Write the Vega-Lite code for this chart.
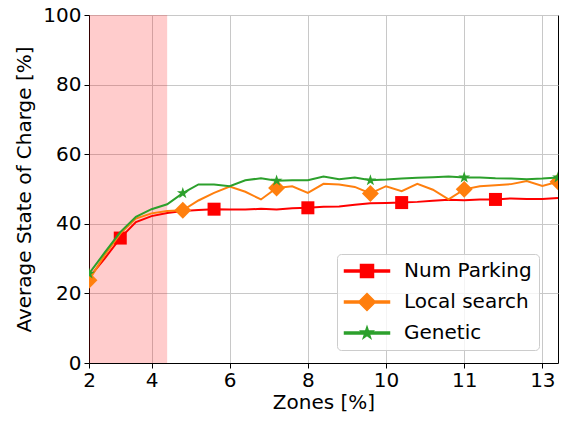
{
  "$schema": "https://vega.github.io/schema/vega-lite/v6.json",
  "width": 469,
  "height": 348,
  "autosize": {"type": "none"},
  "padding": {"left": 89, "top": 15, "right": 7, "bottom": 58},
  "config": {
    "font": "DejaVu Sans",
    "view": {"stroke": "black", "strokeWidth": 1},
    "axis": {
      "labelFont": "DejaVu Sans", "labelFontSize": 20, "labelColor": "black",
      "titleFont": "DejaVu Sans", "titleFontSize": 20, "titleFontWeight": "normal", "titleColor": "black",
      "tickColor": "black", "tickSize": 5, "tickWidth": 1,
      "domainColor": "black", "domainWidth": 1,
      "gridColor": "#c8c8c8", "gridWidth": 1, "gridOpacity": 1
    },
    "legend": {
      "labelFont": "DejaVu Sans", "labelFontSize": 20, "labelColor": "black"
    }
  },
  "datasets": {
    "soc": [
      {"i":0,"s":"Num Parking","v":24.5},{"i":1,"s":"Num Parking","v":30.0},{"i":2,"s":"Num Parking","v":35.9},{"i":3,"s":"Num Parking","v":40.5},{"i":4,"s":"Num Parking","v":42.2},{"i":5,"s":"Num Parking","v":43.1},{"i":6,"s":"Num Parking","v":43.7},{"i":7,"s":"Num Parking","v":44.0},{"i":8,"s":"Num Parking","v":44.2},{"i":9,"s":"Num Parking","v":44.1},{"i":10,"s":"Num Parking","v":44.1},{"i":11,"s":"Num Parking","v":44.3},{"i":12,"s":"Num Parking","v":44.1},{"i":13,"s":"Num Parking","v":44.5},{"i":14,"s":"Num Parking","v":44.6},{"i":15,"s":"Num Parking","v":44.9},{"i":16,"s":"Num Parking","v":45.0},{"i":17,"s":"Num Parking","v":45.5},{"i":18,"s":"Num Parking","v":45.9},{"i":19,"s":"Num Parking","v":46.0},{"i":20,"s":"Num Parking","v":46.1},{"i":21,"s":"Num Parking","v":46.3},{"i":22,"s":"Num Parking","v":46.6},{"i":23,"s":"Num Parking","v":46.9},{"i":24,"s":"Num Parking","v":46.8},{"i":25,"s":"Num Parking","v":47.0},{"i":26,"s":"Num Parking","v":47.0},{"i":27,"s":"Num Parking","v":47.3},{"i":28,"s":"Num Parking","v":47.1},{"i":29,"s":"Num Parking","v":47.1},{"i":30,"s":"Num Parking","v":47.4},
      {"i":0,"s":"Local search","v":23.8},{"i":1,"s":"Local search","v":31.0},{"i":2,"s":"Local search","v":37.2},{"i":3,"s":"Local search","v":41.5},{"i":4,"s":"Local search","v":43.0},{"i":5,"s":"Local search","v":43.7},{"i":6,"s":"Local search","v":43.9},{"i":7,"s":"Local search","v":46.7},{"i":8,"s":"Local search","v":48.9},{"i":9,"s":"Local search","v":50.7},{"i":10,"s":"Local search","v":49.2},{"i":11,"s":"Local search","v":47.0},{"i":12,"s":"Local search","v":50.3},{"i":13,"s":"Local search","v":50.8},{"i":14,"s":"Local search","v":48.9},{"i":15,"s":"Local search","v":51.5},{"i":16,"s":"Local search","v":51.3},{"i":17,"s":"Local search","v":50.6},{"i":18,"s":"Local search","v":48.7},{"i":19,"s":"Local search","v":50.8},{"i":20,"s":"Local search","v":49.4},{"i":21,"s":"Local search","v":51.5},{"i":22,"s":"Local search","v":49.8},{"i":23,"s":"Local search","v":47.0},{"i":24,"s":"Local search","v":49.9},{"i":25,"s":"Local search","v":50.8},{"i":26,"s":"Local search","v":51.1},{"i":27,"s":"Local search","v":51.4},{"i":28,"s":"Local search","v":52.3},{"i":29,"s":"Local search","v":50.9},{"i":30,"s":"Local search","v":52.1},
      {"i":0,"s":"Genetic","v":25.7},{"i":1,"s":"Genetic","v":31.7},{"i":2,"s":"Genetic","v":37.6},{"i":3,"s":"Genetic","v":42.0},{"i":4,"s":"Genetic","v":44.2},{"i":5,"s":"Genetic","v":45.6},{"i":6,"s":"Genetic","v":48.8},{"i":7,"s":"Genetic","v":51.3},{"i":8,"s":"Genetic","v":51.3},{"i":9,"s":"Genetic","v":50.8},{"i":10,"s":"Genetic","v":52.5},{"i":11,"s":"Genetic","v":53.1},{"i":12,"s":"Genetic","v":52.4},{"i":13,"s":"Genetic","v":52.5},{"i":14,"s":"Genetic","v":52.5},{"i":15,"s":"Genetic","v":53.6},{"i":16,"s":"Genetic","v":52.8},{"i":17,"s":"Genetic","v":53.3},{"i":18,"s":"Genetic","v":52.5},{"i":19,"s":"Genetic","v":52.7},{"i":20,"s":"Genetic","v":53.0},{"i":21,"s":"Genetic","v":53.2},{"i":22,"s":"Genetic","v":53.4},{"i":23,"s":"Genetic","v":53.6},{"i":24,"s":"Genetic","v":53.3},{"i":25,"s":"Genetic","v":53.3},{"i":26,"s":"Genetic","v":53.1},{"i":27,"s":"Genetic","v":53.0},{"i":28,"s":"Genetic","v":52.8},{"i":29,"s":"Genetic","v":53.0},{"i":30,"s":"Genetic","v":53.3}
    ],
    "span": [{"start": 0, "end": 5, "lo": 0, "hi": 100}]
  },
  "layer": [
    {
      "data": {"name": "span"},
      "mark": {"type": "rect", "fill": "#ff0000", "fillOpacity": 0.2, "strokeWidth": 0},
      "encoding": {
        "x": {"field": "start", "type": "quantitative", "scale": {"domain": [0, 30], "nice": false, "zero": false}, "axis": {
          "title": "Zones [%]",
          "values": [0, 4, 9, 14, 19, 24, 29],
          "labelExpr": "datum.value == 0 ? '2' : datum.value == 4 ? '4' : datum.value == 9 ? '6' : datum.value == 14 ? '8' : datum.value == 19 ? '10' : datum.value == 24 ? '11' : '13'",
          "labelPadding": 2, "titlePadding": 2, "labelFlush": false, "labelOverlap": false
        }},
        "x2": {"field": "end"},
        "y": {"field": "lo", "type": "quantitative", "scale": {"domain": [0, 100], "nice": false}, "axis": {
          "title": "Average State of Charge [%]",
          "values": [0, 20, 40, 60, 80, 100],
          "labelPadding": 3, "titlePadding": 8
        }},
        "y2": {"field": "hi"}
      }
    },
    {
      "data": {"name": "soc"},
      "encoding": {
        "x": {"field": "i", "type": "quantitative"},
        "y": {"field": "v", "type": "quantitative"},
        "color": {"field": "s", "type": "nominal", "scale": {"domain": ["Num Parking", "Local search", "Genetic"], "range": ["#ff0000", "#ff7f0e", "#2ca02c"]}}
      },
      "layer": [
        {
          "transform": [{"filter": "datum.s === 'Num Parking'"}],
          "mark": {"type": "line", "strokeWidth": 2, "clip": true}
        },
        {
          "transform": [{"filter": "datum.s === 'Num Parking' && datum.i % 6 === 2"}],
          "mark": {"type": "point", "filled": true, "opacity": 1, "size": 169, "clip": true, "shape": "M-1,-1H1V1H-1Z"}
        },
        {
          "transform": [{"filter": "datum.s === 'Local search'"}],
          "mark": {"type": "line", "strokeWidth": 2, "clip": true}
        },
        {
          "transform": [{"filter": "datum.s === 'Local search' && datum.i % 6 === 0"}],
          "mark": {"type": "point", "filled": true, "opacity": 1, "size": 169, "clip": true, "shape": "M0,-1.3L1.3,0L0,1.3L-1.3,0Z"}
        },
        {
          "transform": [{"filter": "datum.s === 'Genetic'"}],
          "mark": {"type": "line", "strokeWidth": 2, "clip": true}
        },
        {
          "transform": [{"filter": "datum.s === 'Genetic' && datum.i % 6 === 0"}],
          "mark": {"type": "point", "filled": true, "opacity": 1, "size": 169, "clip": true, "shape": "M0,-0.95L0.213,-0.294L0.903,-0.294L0.345,0.112L0.558,0.769L0,0.363L-0.558,0.769L-0.345,0.112L-0.903,-0.294L-0.213,-0.294Z"}
        },
        {
          "transform": [{"filter": "datum.i % 6 === 0"}],
          "mark": {"type": "point", "filled": true, "opacity": 0, "size": 169},
          "encoding": {
            "color": {"field": "s", "type": "nominal",
              "legend": {
                "title": null, "orient": "none", "legendX": 248, "legendY": 239,
                "direction": "vertical",
                "fillColor": "rgba(255,255,255,0.8)", "strokeColor": "#cccccc", "cornerRadius": 4,
                "padding": 7, "rowPadding": 9, "symbolSize": 169,
                "symbolOffset": 13, "labelOffset": 27, "symbolOpacity": 1
              }
            },
            "shape": {"field": "s", "type": "nominal",
              "scale": {"domain": ["Num Parking", "Local search", "Genetic"], "range": [
                "M-3.46,-0.16H3.46V0.16H-3.46Z M-1,-1H1V1H-1Z",
                "M-3.46,-0.16H3.46V0.16H-3.46Z M0,-1.3L1.3,0L0,1.3L-1.3,0Z",
                "M-3.46,-0.16H3.46V0.16H-3.46Z M0,-0.95L0.213,-0.294L0.903,-0.294L0.345,0.112L0.558,0.769L0,0.363L-0.558,0.769L-0.345,0.112L-0.903,-0.294L-0.213,-0.294Z"
              ]},
              "legend": {
                "title": null, "orient": "none", "legendX": 248, "legendY": 239,
                "direction": "vertical",
                "fillColor": "rgba(255,255,255,0.8)", "strokeColor": "#cccccc", "cornerRadius": 4,
                "padding": 7, "rowPadding": 9, "symbolSize": 169,
                "symbolOffset": 13, "labelOffset": 27, "symbolOpacity": 1
              }
            }
          }
        }
      ]
    }
  ]
}
